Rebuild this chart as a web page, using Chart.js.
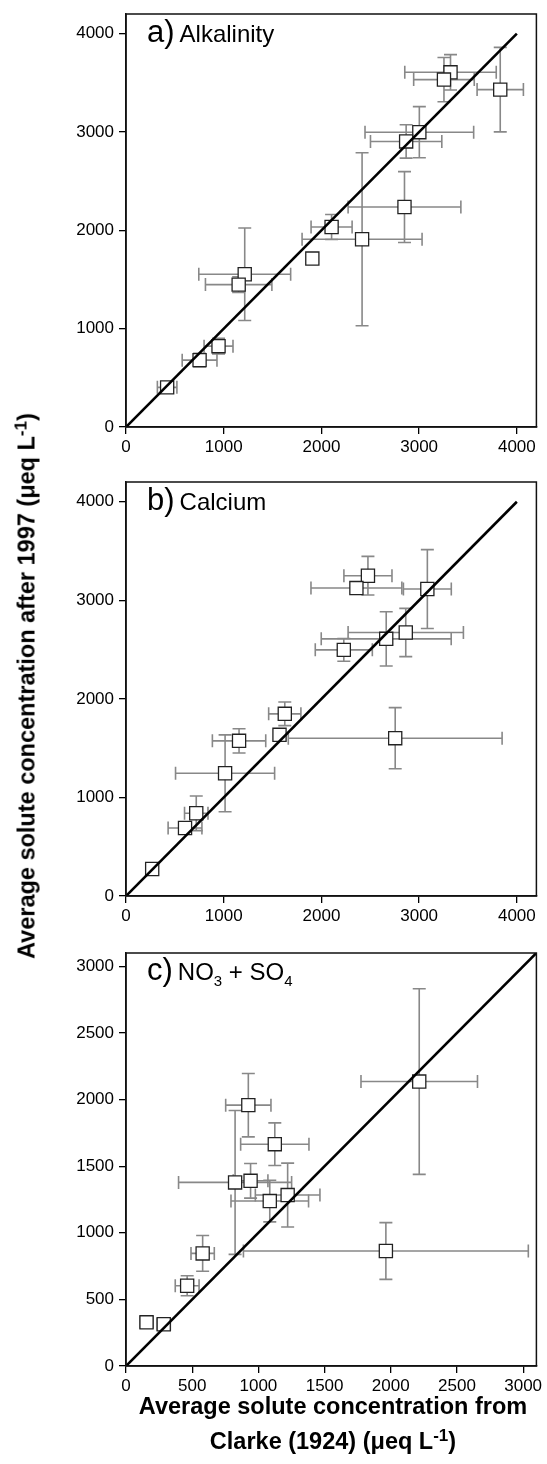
<!DOCTYPE html>
<html><head><meta charset="utf-8">
<script src="https://cdn.jsdelivr.net/npm/chart.js@4.4.1/dist/chart.umd.min.js"></script>
<style>
html,body{margin:0;padding:0;background:#fff;}
body{width:547px;height:1464px;position:relative;overflow:hidden;font-family:"Liberation Sans",Arial,sans-serif;color:#000;}
canvas{position:absolute;left:0;}
.ptitle{position:absolute;left:147px;font-size:31px;line-height:31px;white-space:nowrap;}
.ptitle .n{font-size:24px;margin-left:5px;}
.ptitle sub{font-size:15px;vertical-align:-6px;line-height:0;}
#ylab{position:absolute;left:27px;top:686px;transform:translate(-50%,-50%) rotate(-90deg);font-weight:bold;font-size:23.5px;white-space:nowrap;}
#xlab{position:absolute;left:83px;width:500px;top:1389px;text-align:center;font-weight:bold;font-size:23.5px;line-height:35px;white-space:nowrap;}
sup.s{font-size:17px;vertical-align:8px;line-height:0;}
</style>
</head>
<body>
<canvas id="ca" width="547" height="455" style="top:0px"></canvas>
<canvas id="cb" width="547" height="470" style="top:455px"></canvas>
<canvas id="cc" width="547" height="539" style="top:925px"></canvas>
<div class="ptitle" style="top:16px">a)<span class="n">Alkalinity</span></div>
<div class="ptitle" style="top:484px">b)<span class="n">Calcium</span></div>
<div class="ptitle" style="top:954px">c)<span class="n">NO<sub>3</sub> + SO<sub>4</sub></span></div>
<div id="ylab">Average solute concentration after 1997 (μeq L<sup class="s">-1</sup>)</div>
<div id="xlab">Average solute concentration from<br>Clarke (1924) (μeq L<sup class="s">-1</sup>)</div>
<script>
// ---- tick labels ----
const TICKS_AB = [0, 1000, 2000, 3000, 4000];
const TICKS_C = [0, 500, 1000, 1500, 2000, 2500, 3000];

// ---- a) Alkalinity ----
const ALK_X    = [3321, 3254, 3830, 3002, 2867, 2850, 2416, 2104, 1907, 1215, 1153, 947, 753, 421];
const ALK_Y    = [3607, 3533, 3431, 2998, 2904, 2237, 1909, 2034, 1713, 1553, 1448, 822, 680, 403];
const ALK_XERR = [468, 310, 237, 556, 365, 577, 614, 210, 60, 470, 340, 148, 178, 100];
const ALK_YERR = [180, 225, 430, 260, 170, 360, 880, 127, 40, 470, 80, 80, 70, 40];

// ---- b) Calcium ----
const CA_X    = [2476, 2358, 3084, 2863, 2663, 2229, 2755, 1625, 1571, 1157, 1014, 719, 604, 268];
const CA_Y    = [3249, 3124, 3114, 2673, 2609, 2497, 1601, 1848, 1635, 1574, 1245, 839, 690, 274];
const CA_XERR = [246, 465, 245, 590, 665, 292, 1094, 165, 60, 273, 507, 120, 173, 40];
const CA_YERR = [196, 60, 400, 245, 275, 115, 310, 120, 50, 123, 390, 176, 60, 30];

// ---- c) NO3 + SO4 ----
const NS_X    = [2215, 924, 1124, 824, 941, 1086, 1221, 1963, 579, 462, 155, 285];
const NS_Y    = [2135, 1958, 1665, 1378, 1390, 1238, 1283, 863, 845, 602, 328, 313];
const NS_XERR = [440, 171, 258, 427, 131, 293, 244, 1076, 88, 90, 50, 50];
const NS_YERR = [697, 238, 160, 540, 130, 156, 240, 213, 134, 75, 30, 30];

// ---- 1:1 lines ----
const LINE_AB = [0, 4000];
const LINE_C = [0, 3100];

Chart.defaults.font.family = '"Liberation Sans", Arial, sans-serif';
Chart.defaults.color = '#000';

function errorBarPlugin(xs, ys, xe, ye) {
  return {
    id: 'errorBars',
    beforeDatasetsDraw(chart) {
      const ctx = chart.ctx, sx = chart.scales.x, sy = chart.scales.y;
      const c = 6.5;
      ctx.save();
      ctx.strokeStyle = '#888';
      ctx.lineWidth = 1.6;
      xs.forEach((xv, i) => {
        const yv = ys[i];
        const px = sx.getPixelForValue(xv), py = sy.getPixelForValue(yv);
        const x0 = sx.getPixelForValue(xv - xe[i]), x1 = sx.getPixelForValue(xv + xe[i]);
        const y0 = sy.getPixelForValue(yv - ye[i]), y1 = sy.getPixelForValue(yv + ye[i]);
        ctx.beginPath();
        ctx.moveTo(x0, py); ctx.lineTo(x1, py);
        ctx.moveTo(x0, py - c); ctx.lineTo(x0, py + c);
        ctx.moveTo(x1, py - c); ctx.lineTo(x1, py + c);
        ctx.moveTo(px, y0); ctx.lineTo(px, y1);
        ctx.moveTo(px - c, y0); ctx.lineTo(px + c, y0);
        ctx.moveTo(px - c, y1); ctx.lineTo(px + c, y1);
        ctx.stroke();
      });
      ctx.restore();
    }
  };
}

const boxPlugin = {
  id: 'box',
  afterDraw(chart) {
    const a = chart.chartArea, ctx = chart.ctx;
    ctx.save();
    ctx.strokeStyle = '#111';
    ctx.lineWidth = 1.5;
    ctx.strokeRect(a.left, a.top, a.right - a.left, a.bottom - a.top);
    ctx.restore();
  }
};

function makeChart(id, xs, ys, xe, ye, line, ticks, max, padTop, xH) {
  const pts = xs.map((x, i) => ({ x: x, y: ys[i] }));
  const zeroPad = s => { s.paddingLeft = 0; s.paddingRight = 0; s.paddingTop = 0; s.paddingBottom = 0; };
  const fmt = v => String(v);
  return new Chart(document.getElementById(id), {
    type: 'scatter',
    data: {
      datasets: [
        {
          type: 'line',
          data: [{ x: line[0], y: line[0] }, { x: line[1], y: line[1] }],
          borderColor: '#000', borderWidth: 2.6, pointRadius: 0, fill: false, order: 0
        },
        {
          data: pts, pointStyle: 'rect', pointRadius: 9.3,
          backgroundColor: '#fff', borderColor: '#222', borderWidth: 1.3, order: 1
        }
      ]
    },
    options: {
      responsive: false, animation: false, events: [],
      layout: { padding: { top: padTop, right: 8, left: 0, bottom: 0 } },
      plugins: { legend: { display: false }, tooltip: { enabled: false } },
      scales: {
        x: {
          type: 'linear', min: 0, max: max,
          afterBuildTicks: s => { s.ticks = ticks.map(v => ({ value: v })); },
          afterFit: s => { s.height = xH; zeroPad(s); },
          grid: { drawOnChartArea: false, drawTicks: true, tickLength: 7, color: '#000', lineWidth: 1.3 },
          border: { display: true, color: '#111', width: 1.5 },
          ticks: { color: '#000', font: { size: 17 }, padding: 3, maxRotation: 0, autoSkip: false, callback: fmt }
        },
        y: {
          type: 'linear', min: 0, max: max,
          afterBuildTicks: s => { s.ticks = ticks.map(v => ({ value: v })); },
          afterFit: s => { s.width = 126; zeroPad(s); },
          grid: { drawOnChartArea: false, drawTicks: true, tickLength: 7, color: '#000', lineWidth: 1.3 },
          border: { display: true, color: '#111', width: 1.5 },
          ticks: { color: '#000', font: { size: 17 }, padding: 5, autoSkip: false, callback: fmt }
        }
      }
    },
    plugins: [errorBarPlugin(xs, ys, xe, ye), boxPlugin]
  });
}

makeChart('ca', ALK_X, ALK_Y, ALK_XERR, ALK_YERR, LINE_AB, TICKS_AB, 4200, 14, 28);
makeChart('cb', CA_X, CA_Y, CA_XERR, CA_YERR, LINE_AB, TICKS_AB, 4200, 27, 29);
makeChart('cc', NS_X, NS_Y, NS_XERR, NS_YERR, LINE_C, TICKS_C, 3100, 28, 98);
</script>
</body></html>
